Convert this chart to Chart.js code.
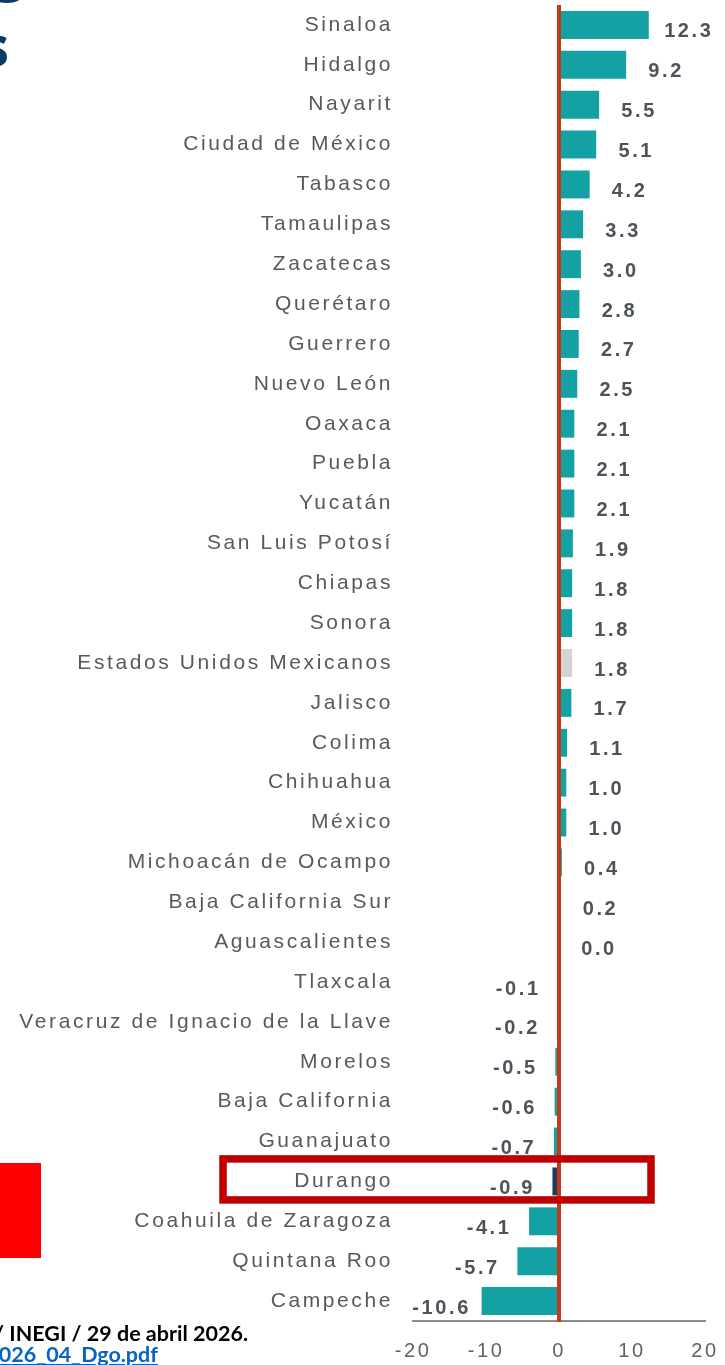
<!DOCTYPE html>
<html>
<head>
<meta charset="utf-8">
<script src="https://cdn.jsdelivr.net/npm/chart.js@4"></script>
<style>
  html, body { margin: 0; padding: 0; background: #fff; overflow: hidden; }
  body { width: 725px; height: 1365px; position: relative; }
  #chart { position: absolute; left: 0; top: 0; }
  .title { position: absolute; color: #0d3a63; font: bold 56px 'Open Sans', sans-serif; white-space: nowrap; line-height: 1; }
  .foot { position: absolute; white-space: nowrap; font: bold 21.5px Lato, 'Open Sans', sans-serif; }
  .redbox { position: absolute; left: 0; top: 1163px; width: 41px; height: 95px; background: #ff0000; }
</style>
</head>
<body>
<canvas id="chart" width="725" height="1365"></canvas>
<div class="title" style="right:700px; top:-60px;">g</div>
<div class="title" style="right:716px; top:16px;">s</div>
<div class="redbox"></div>
<div class="foot" style="right:477px; top:1320px; color:#000;">/ INEGI / 29 de abril 2026.</div>
<div class="foot" style="right:567px; top:1341px; color:#0563c1; text-decoration:underline;">2026_04_Dgo.pdf</div>
<script>
const categories = [
  'Sinaloa', 'Hidalgo', 'Nayarit', 'Ciudad de México', 'Tabasco', 'Tamaulipas',
  'Zacatecas', 'Querétaro', 'Guerrero', 'Nuevo León', 'Oaxaca', 'Puebla',
  'Yucatán', 'San Luis Potosí', 'Chiapas', 'Sonora', 'Estados Unidos Mexicanos',
  'Jalisco', 'Colima', 'Chihuahua', 'México', 'Michoacán de Ocampo',
  'Baja California Sur', 'Aguascalientes', 'Tlaxcala',
  'Veracruz de Ignacio de la Llave', 'Morelos', 'Baja California', 'Guanajuato',
  'Durango', 'Coahuila de Zaragoza', 'Quintana Roo', 'Campeche'
];
const values = [
  12.3, 9.2, 5.5, 5.1, 4.2, 3.3,
  3.0, 2.8, 2.7, 2.5, 2.1, 2.1,
  2.1, 1.9, 1.8, 1.8, 1.8,
  1.7, 1.1, 1.0, 1.0, 0.4,
  0.2, 0.0, -0.1,
  -0.2, -0.5, -0.6, -0.7,
  -0.9, -4.1, -5.7, -10.6
];
const xTicks = [-20, -10, 0, 10, 20];
const highlight = 'Durango';
const national = 'Estados Unidos Mexicanos';

const TEAL = '#14a1a3';
const NAVY = '#1f3a5f';
const GREY = '#d3d3d3';

const barColors = categories.map(c => c === highlight ? NAVY : (c === national ? GREY : TEAL));

// the slide text is drawn with wide letter spacing
const spacing = {
  id: 'spacing',
  beforeDraw(chart) { chart.ctx.letterSpacing = '2.6px'; }
};

const zeroLine = {
  id: 'zeroLine',
  afterDatasetsDraw(chart) {
    const { ctx, chartArea, scales } = chart;
    const x = scales.x.getPixelForValue(0);
    ctx.save();
    ctx.strokeStyle = '#c23a1c';
    ctx.lineWidth = 4;
    ctx.beginPath();
    ctx.moveTo(x, chartArea.top);
    ctx.lineTo(x, chartArea.bottom + 1);
    ctx.stroke();
    ctx.restore();
  }
};

const valueLabels = {
  id: 'valueLabels',
  afterDatasetsDraw(chart) {
    const { ctx } = chart;
    const meta = chart.getDatasetMeta(0);
    ctx.save();
    ctx.font = 'bold 20px "Liberation Sans", Arial, sans-serif';
    ctx.fillStyle = '#4d535b';
    ctx.textAlign = 'center';
    ctx.textBaseline = 'middle';
    meta.data.forEach((bar, i) => {
      const v = values[i];
      const x = v >= 0 ? bar.x + 40 : bar.x - 40;
      ctx.fillText(v.toFixed(1), x, bar.y + 7);
    });
    ctx.restore();
  }
};

const highlightBox = {
  id: 'highlightBox',
  afterDraw(chart) {
    const { ctx, scales } = chart;
    const y = scales.y.getPixelForValue(categories.indexOf(highlight));
    ctx.save();
    ctx.strokeStyle = '#c00000';
    ctx.lineWidth = 7.5;
    ctx.strokeRect(223, y - 22.5, 428, 41);
    ctx.restore();
  }
};

Chart.defaults.font.family = '"Liberation Sans", Arial, sans-serif';

new Chart(document.getElementById('chart'), {
  type: 'bar',
  data: {
    labels: categories,
    datasets: [{
      data: values,
      backgroundColor: barColors,
      borderWidth: 0,
      categoryPercentage: 1,
      barPercentage: 0.7
    }]
  },
  options: {
    indexAxis: 'y',
    responsive: false,
    animation: false,
    devicePixelRatio: 1,
    layout: { padding: { top: 5, right: 20, left: 0, bottom: 0 } },
    plugins: { legend: { display: false }, tooltip: { enabled: false } },
    scales: {
      x: {
        min: -20,
        max: 20,
        afterBuildTicks: s => { s.ticks = xTicks.map(v => ({ value: v })); },
        afterFit: s => { s.height = 44; s.paddingLeft = 0; s.paddingRight = 0; },
        grid: { display: false, drawTicks: false },
        border: { display: true, color: '#8c8c8c', width: 2 },
        ticks: { color: '#5f6368', font: { size: 20 }, padding: 18, maxRotation: 0 }
      },
      y: {
        afterFit: s => { s.width = 413; s.paddingTop = 0; s.paddingBottom = 0; },
        grid: { display: false, drawTicks: false },
        border: { display: false },
        ticks: { color: '#555a60', font: { size: 21 }, padding: 20, autoSkip: false }
      }
    }
  },
  plugins: [spacing, zeroLine, valueLabels, highlightBox]
});
</script>
</body>
</html>
